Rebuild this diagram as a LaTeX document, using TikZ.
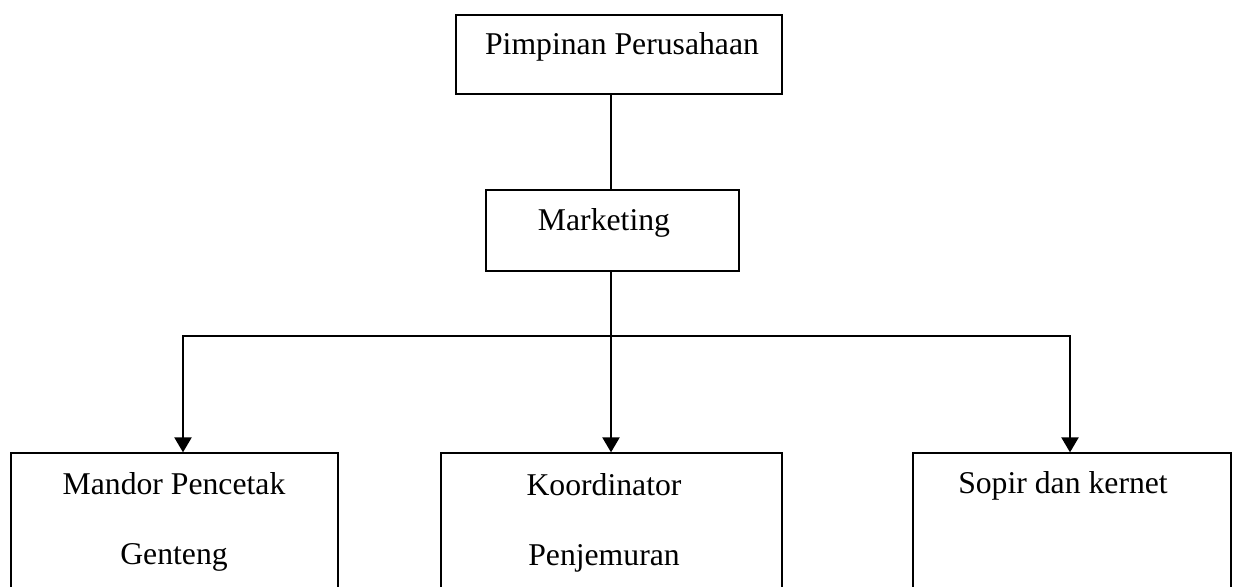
\documentclass[tikz,border=0pt]{standalone}
\usepackage{fontspec}
\setmainfont{Liberation Serif}
\usetikzlibrary{arrows.meta}

\begin{document}
\begin{tikzpicture}[x=1pt,y=1pt]
    \tikzset{
        unit/.style={draw, line width=1.3pt, inner sep=0pt},
        jabatan/.style={font=\fontsize{31.7}{70}\selectfont, anchor=base, inner sep=0pt, align=center},
        panah/.style={line width=2.3pt, -{Triangle[length=15pt,width=17pt]}}
    }
    \clip (0,0) rectangle (1233,-586);

    \node[unit, minimum width=326pt, minimum height=79pt] at (619,-54.5)   (pimpinan) {};
    \node[unit, minimum width=253pt, minimum height=81pt] at (612.5,-230.5) (marketing) {};
    \node[unit, minimum width=327pt, minimum height=160pt] at (174.5,-533) (mandor) {};
    \node[unit, minimum width=341pt, minimum height=160pt] at (611.5,-533) (koordinator) {};
    \node[unit, minimum width=318pt, minimum height=160pt] at (1072,-533)  (sopir) {};

    \node[jabatan] at (622,-55)  (tpimpinan) {Pimpinan Perusahaan};
    \node[jabatan] at (604,-230) (tmarketing) {Marketing};
    \node[jabatan] at (174,-564) (tmandor) {Mandor Pencetak\\Genteng};
    \node[jabatan] at (604,-565) (tkoordinator) {Koordinator\\Penjemuran};
    \node[jabatan] at (1063,-493) (tsopir) {Sopir dan kernet};

    \coordinate (cabang) at (611,-336);
    \coordinate (kiri) at (183,-336);
    \coordinate (kanan) at (1070,-336);

    \draw [line width=1.3pt] (pimpinan.south -| cabang) -- (marketing.north -| cabang);
    \draw [line width=1.3pt, line cap=rect] (kiri) -- (kanan);
    \draw [line width=2.3pt] (marketing.south -| cabang) -- (cabang);
    \draw [panah] (cabang) -- (cabang |- koordinator.north);
    \draw [panah] (kiri) -- (kiri |- mandor.north);
    \draw [panah] (kanan) -- (kanan |- sopir.north);
\end{tikzpicture}
\end{document}
